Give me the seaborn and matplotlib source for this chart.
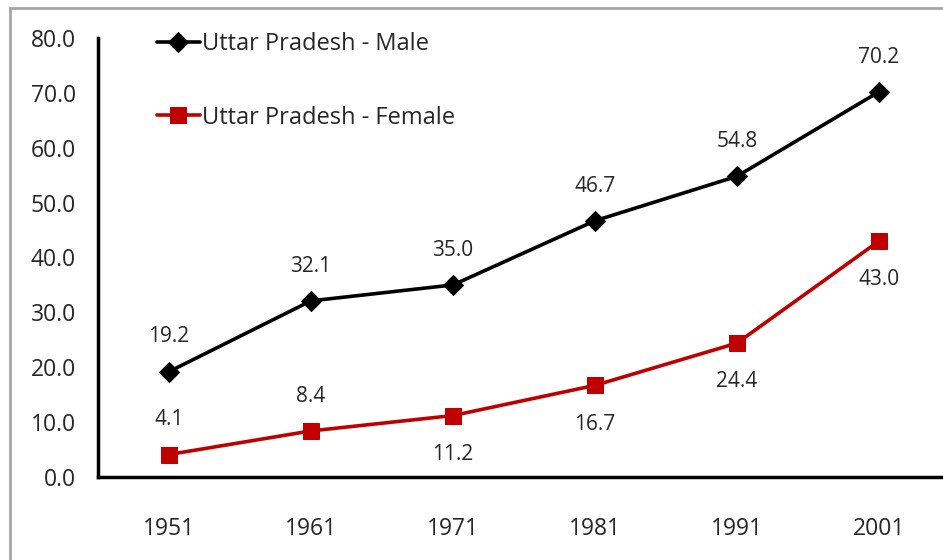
import numpy as np
import pandas as pd
import matplotlib.pyplot as plt
import matplotlib.patches as mpatches
from matplotlib.ticker import FixedLocator, NullFormatter
import seaborn as sns

years = ["1951", "1961", "1971", "1981", "1991", "2001"]
male = [19.2, 32.1, 35.0, 46.7, 54.8, 70.2]
female = [4.1, 8.4, 11.2, 16.7, 24.4, 43.0]
female_label_pos = ["above", "above", "below", "below", "below", "below"]

sns.set_style("white")
plt.rcParams["font.family"] = ["Liberation Sans Narrow", "Open Sans", "DejaVu Sans"]

fig = plt.figure(figsize=(9.43, 5.6), dpi=100)
ax = fig.add_axes([98 / 943, 83 / 560, 852 / 943, 439 / 560])

# grey frame of the chart area
fig.patches.append(mpatches.Rectangle((10 / 943, -0.05), 1.2, (552 + 28) / 560,
                                      transform=fig.transFigure, fill=False,
                                      edgecolor="#a6a6a6", linewidth=2))

df = pd.DataFrame({"year": years * 2,
                   "value": male + female,
                   "series": ["Uttar Pradesh - Male"] * 6 + ["Uttar Pradesh - Female"] * 6})

sns.lineplot(data=df[df.series == "Uttar Pradesh - Male"], x="year", y="value",
             color="black", marker="D", markersize=10, linewidth=2.6,
             markeredgecolor="black", label="Uttar Pradesh - Male", ax=ax)
sns.lineplot(data=df[df.series == "Uttar Pradesh - Female"], x="year", y="value",
             color="#c00000", marker="s", markersize=11.5, linewidth=2.6,
             markeredgecolor="#c00000", label="Uttar Pradesh - Female", ax=ax)

for i, v in enumerate(male):
    ax.annotate(f"{v:.1f}", (i, v), xytext=(0, 25), textcoords="offset points",
                ha="center", va="center", fontsize=15)
for i, v in enumerate(female):
    off = 25 if female_label_pos[i] == "above" else -28
    ax.annotate(f"{v:.1f}", (i, v), xytext=(0, off), textcoords="offset points",
                ha="center", va="center", fontsize=15)

ax.set_xlim(-0.5, 5.5)
ax.set_ylim(0, 80)
ax.set_yticks(np.arange(0, 81, 10))
ax.set_yticklabels([f"{t:.1f}" for t in np.arange(0, 81, 10)], fontsize=16.5)
ax.set_xticks(range(6))
ax.set_xticklabels(years, fontsize=16.5)
ax.xaxis.set_minor_locator(FixedLocator(np.arange(-0.5, 6, 1)))
ax.xaxis.set_minor_formatter(NullFormatter())
ax.tick_params(axis="x", which="major", length=0, pad=29)
ax.tick_params(axis="x", which="minor", length=8, width=2.5, direction="out", color="black")
ax.tick_params(axis="y", length=7, width=2.5, direction="out", color="black", pad=9)
ax.set_xlabel("")
ax.set_ylabel("")

for s in ["top", "right"]:
    ax.spines[s].set_visible(False)
for s in ["left", "bottom"]:
    ax.spines[s].set_linewidth(2.5)
    ax.spines[s].set_color("black")

leg = ax.legend(loc="upper left", bbox_to_anchor=(157 / 943, 528 / 560),
                bbox_transform=fig.transFigure, frameon=False, fontsize=17,
                handlelength=1.8, handletextpad=0.1, labelspacing=2.1,
                borderpad=0, borderaxespad=0)

fig.savefig("out.png", dpi=100)
